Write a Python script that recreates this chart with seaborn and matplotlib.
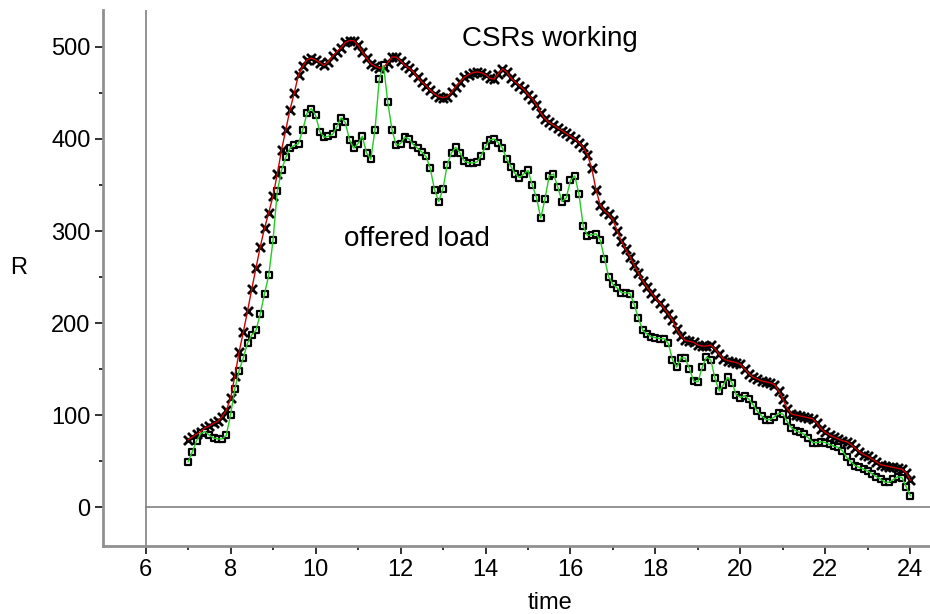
import numpy as np
import pandas as pd
import matplotlib
matplotlib.use("Agg")
import matplotlib.pyplot as plt
import seaborn as sns

# time axis: one reading every 0.1 h from 7.0 to 24.0
time = np.round(np.arange(7.0, 24.05, 0.1), 1)

csrs_working = [
    73, 76, 79, 82, 86, 88, 91, 93, 98, 105,
    118, 142, 168, 190, 213, 237, 260, 283, 303, 320,
    338, 362, 388, 410, 432, 450, 470, 479, 486, 488,
    486, 483, 480, 484, 490, 495, 499, 505, 507, 507,
    502, 495, 488, 482, 479, 477, 478, 483, 489, 489,
    485, 480, 477, 473, 467, 462, 458, 453, 449, 446,
    445, 446, 451, 457, 462, 467, 470, 472, 473, 472,
    470, 466, 465, 471, 476, 473, 466, 462, 458, 454,
    448, 444, 437, 428, 422, 418, 415, 412, 409, 406,
    403, 400, 396, 391, 383, 368, 345, 328, 322, 318,
    312, 300, 289, 280, 272, 263, 254, 246, 239, 233,
    227, 222, 216, 210, 203, 193, 186, 181, 180, 179,
    176, 175, 175, 176, 172, 166, 161, 159, 158, 157,
    155, 150, 145, 141, 139, 137, 136, 135, 133, 126,
    117, 107, 101, 100, 99, 98, 97, 96, 91, 85,
    81, 78, 76, 74, 72, 71, 68, 64, 60, 57,
    55, 52, 49, 46, 45, 44, 43, 42, 41, 37,
    29,
]

offered_load = [
    49, 60, 72, 80, 82, 78, 75, 74, 74, 78,
    100, 128, 148, 162, 178, 187, 192, 210, 232, 252,
    290, 343, 366, 380, 390, 393, 395, 410, 428, 433,
    426, 408, 402, 403, 405, 413, 423, 418, 399, 390,
    395, 403, 385, 378, 410, 465, 480, 440, 410, 393,
    395, 402, 400, 394, 390, 386, 381, 368, 345, 332,
    346, 372, 385, 391, 385, 376, 374, 374, 375, 382,
    392, 399, 400, 396, 390, 378, 370, 362, 358, 362,
    366, 350, 336, 314, 335, 360, 362, 348, 332, 336,
    355, 360, 340, 305, 295, 296, 297, 290, 270, 250,
    242, 238, 233, 233, 232, 220, 205, 192, 188, 185,
    184, 183, 183, 178, 160, 152, 162, 162, 150, 137,
    136, 152, 163, 160, 140, 126, 133, 141, 135, 122,
    119, 121, 117, 111, 104, 99, 95, 95, 98, 102,
    101, 93, 86, 83, 81, 79, 75, 70, 70, 71,
    70, 68, 66, 65, 61, 54, 49, 45, 43, 41,
    39, 36, 33, 30, 27, 27, 30, 33, 32, 22,
    12,
]

x_ticks = [6, 8, 10, 12, 14, 16, 18, 20, 22, 24]
y_ticks = [0, 100, 200, 300, 400, 500]

df = pd.DataFrame({"time": time, "csrs": csrs_working, "load": offered_load})

sns.set_style("white", {"text.color": "black", "axes.labelcolor": "black",
                        "xtick.color": "black", "ytick.color": "black"})
plt.rcParams["font.family"] = ["Liberation Sans", "DejaVu Sans"]

fig = plt.figure(figsize=(9.3, 6.14), dpi=100)
ax = fig.add_axes([0.1108, 0.1107, 0.8892, 0.873])

# markers first, lines on top (as in the original)
sns.scatterplot(data=df, x="time", y="csrs", marker="x", color="black",
                s=42, linewidth=2.0, ax=ax, zorder=2)
sns.scatterplot(data=df, x="time", y="load", marker="s", facecolor="white",
                edgecolor="black", s=24, linewidth=1.6, ax=ax, zorder=2)
sns.lineplot(data=df, x="time", y="csrs", color="#d00000", linewidth=1.0,
             ax=ax, zorder=3)
sns.lineplot(data=df, x="time", y="load", color="#22cc22", linewidth=1.0,
             ax=ax, zorder=3)

ax.set_xlim(5, 24.46)
ax.set_ylim(-42.4, 540.2)

# inner axes meeting at (6, 0)
ax.axvline(6, color="#808080", linewidth=1.2, zorder=1)
ax.axhline(0, xmin=(6 - 5) / 19.46, color="#808080", linewidth=1.2, zorder=1)

for side in ["top", "right"]:
    ax.spines[side].set_visible(False)
for side in ["left", "bottom"]:
    ax.spines[side].set_color("#909090")
    ax.spines[side].set_linewidth(2)

ax.set_xticks(x_ticks)
ax.set_yticks(y_ticks)
ax.set_xticks(np.arange(7, 25, 2), minor=True)
ax.set_yticks(np.arange(50, 550, 100), minor=True)
ax.tick_params(which="major", length=6, width=1.3, color="#222222",
               labelsize=17, pad=3, direction="out", bottom=True, left=True)
ax.tick_params(which="minor", length=3, width=1.3, color="#222222",
               direction="out", bottom=True, left=True)

ax.set_xlabel("time", fontsize=17)
ax.xaxis.set_label_coords(0.54, -0.085)
ax.set_ylabel("R", fontsize=17, rotation=0, va="center")
ax.yaxis.set_label_coords(-0.1016, 0.519)

ax.text(13.45, 509, "CSRs working", fontsize=20, va="center", ha="left")
ax.text(10.68, 291, "offered load", fontsize=20, va="center", ha="left")

ax.grid(False)
fig.savefig("out.png", dpi=100)
